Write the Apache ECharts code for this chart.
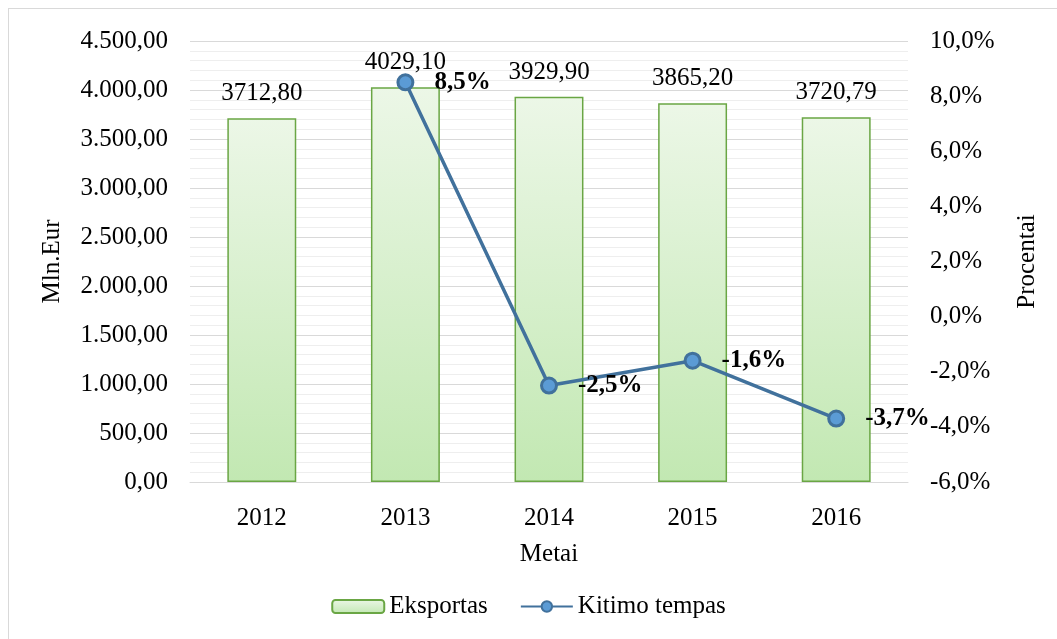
<!DOCTYPE html>
<html>
<head>
<meta charset="utf-8">
<script src="https://cdn.jsdelivr.net/npm/echarts@6/dist/echarts.min.js"></script>
<style>
    html, body { margin: 0; padding: 0; background: #fff; }
    #frame { position: absolute; left: 8px; top: 8px; width: 1060px; height: 640px; border: 1px solid #d9d9d9; box-sizing: border-box; }
    #chart { position: absolute; left: 0; top: 0; width: 1057px; height: 639px; }
</style>
</head>
<body>
<div id="frame"></div>
<div id="chart"></div>
<script>
var years = ['2012', '2013', '2014', '2015', '2016'];
var eksportas = [3712.80, 4029.10, 3929.90, 3865.20, 3720.79];
var kitimoTempas = [null, 8.5, -2.5, -1.6, -3.7];
var leftTicks = { min: 0, max: 4500, interval: 500 };
var rightTicks = { min: -6, max: 10, interval: 2 };

var font = 'Liberation Serif';
var fs = 25;

function thousands(v) {
    var parts = v.toFixed(2).split('.');
    var intPart = parts[0].replace(/\B(?=(\d{3})+(?!\d))/g, '.');
    return intPart + ',' + parts[1];
}

var chart = echarts.init(document.getElementById('chart'));
var option = {
    backgroundColor: 'transparent',
    textStyle: { fontFamily: font, color: '#000' },
    grid: {
        left: 190,
        right: 149,
        top: 41,
        bottom: 157
    },
    legend: {
        bottom: 15,
        left: 'center',
        itemWidth: 52,
        itemHeight: 13,
        itemGap: 32,
        textStyle: { fontFamily: font, fontSize: fs, color: '#000' },
        data: [
            { name: 'Eksportas' },
            { name: 'Kitimo tempas' }
        ]
    },
    xAxis: {
        type: 'category',
        data: years,
        name: 'Metai',
        nameLocation: 'middle',
        nameGap: 60,
        nameTextStyle: { fontFamily: font, fontSize: fs, color: '#000' },
        axisLine: { lineStyle: { color: '#d9d9d9', width: 1 } },
        axisTick: { show: false },
        axisLabel: { fontFamily: font, fontSize: fs, color: '#000', margin: 24 }
    },
    yAxis: [
        {
            type: 'value',
            min: leftTicks.min,
            max: leftTicks.max,
            interval: leftTicks.interval,
            name: 'Mln.Eur',
            nameLocation: 'middle',
            nameGap: 125,
            nameTextStyle: { fontFamily: font, fontSize: fs, color: '#000' },
            axisLine: { show: false },
            axisTick: { show: false },
            axisLabel: {
                fontFamily: font,
                fontSize: fs,
                color: '#000',
                margin: 22,
                formatter: thousands
            },
            splitLine: { lineStyle: { color: '#d9d9d9', width: 1 } },
            minorTick: { show: false, splitNumber: 5 },
            minorSplitLine: { show: true, lineStyle: { color: '#eeeeee', width: 1 } }
        },
        {
            type: 'value',
            min: rightTicks.min,
            max: rightTicks.max,
            interval: rightTicks.interval,
            name: 'Procentai',
            nameLocation: 'middle',
            nameGap: 107,
            nameTextStyle: { fontFamily: font, fontSize: fs, color: '#000' },
            axisLine: { show: false },
            axisTick: { show: false },
            splitLine: { show: false },
            axisLabel: {
                fontFamily: font,
                fontSize: fs,
                color: '#000',
                margin: 22,
                formatter: function (v) { return v.toFixed(1).replace('.', ',') + '%'; }
            }
        }
    ],
    series: [
        {
            name: 'Eksportas',
            type: 'bar',
            yAxisIndex: 0,
            barWidth: '48%',
            itemStyle: {
                color: new echarts.graphic.LinearGradient(0, 0, 0, 1, [
                    { offset: 0, color: '#ecf7e7' },
                    { offset: 1, color: '#c2e8b2' }
                ]),
                borderColor: '#6aa644',
                borderWidth: 1.5
            },
            label: {
                show: true,
                position: 'top',
                distance: 12,
                fontFamily: font,
                fontSize: fs,
                color: '#000',
                formatter: function (p) { return p.value.toFixed(2).replace('.', ','); }
            },
            data: eksportas
        },
        {
            name: 'Kitimo tempas',
            type: 'line',
            yAxisIndex: 1,
            symbol: 'circle',
            symbolSize: 15,
            connectNulls: false,
            lineStyle: { color: '#41719c', width: 3.5 },
            itemStyle: { color: '#5b9bd5', borderColor: '#41719c', borderWidth: 3 },
            label: {
                show: true,
                position: 'right',
                distance: 20,
                fontFamily: font,
                fontSize: fs,
                fontWeight: 'bold',
                color: '#000',
                formatter: function (p) { return p.value.toFixed(1).replace('.', ',') + '%'; }
            },
            data: kitimoTempas
        }
    ]
};
chart.setOption(option);
</script>
</body>
</html>
